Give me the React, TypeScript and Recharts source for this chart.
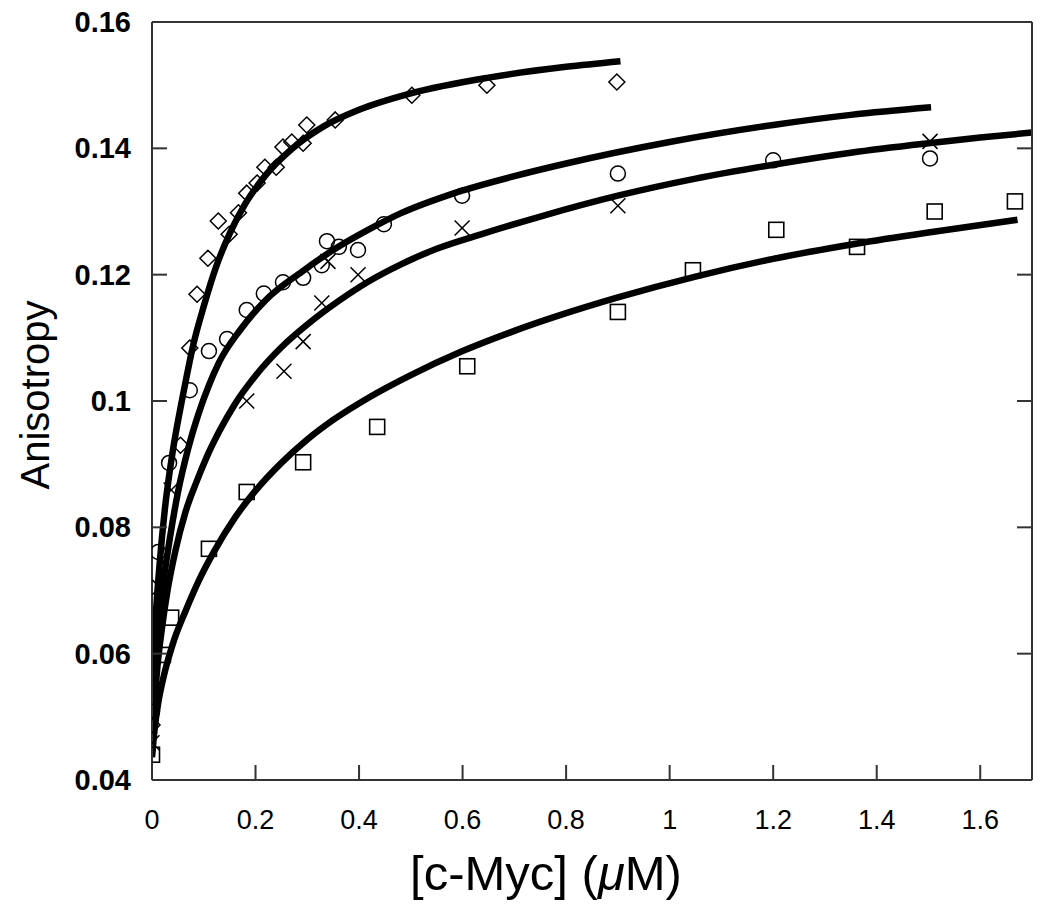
import React from 'react';
import { ComposedChart, Line, Scatter, XAxis, YAxis } from 'recharts';

// measured points, [c-Myc] in uM vs anisotropy
const diamondX = [0, 0.055, 0.073, 0.087, 0.108, 0.128, 0.149, 0.167, 0.183, 0.203, 0.218, 0.24, 0.253, 0.27, 0.292, 0.299, 0.354, 0.502, 0.647, 0.898];
const diamondY = [0.0487, 0.093, 0.1084, 0.1169, 0.1226, 0.1285, 0.1264, 0.1298, 0.1329, 0.1345, 0.137, 0.137, 0.1402, 0.141, 0.1408, 0.1437, 0.1445, 0.1484, 0.15, 0.1505];

const circleX = [0, 0.012, 0.033, 0.073, 0.11, 0.145, 0.183, 0.216, 0.253, 0.292, 0.328, 0.338, 0.361, 0.398, 0.448, 0.599, 0.9, 1.2, 1.503];
const circleY = [0.0508, 0.0761, 0.0902, 0.1017, 0.1079, 0.1098, 0.1144, 0.117, 0.1188, 0.1195, 0.1215, 0.1253, 0.1244, 0.1239, 0.128, 0.1325, 0.136, 0.1381, 0.1384];

const crossX = [0, 0.015, 0.037, 0.183, 0.255, 0.292, 0.328, 0.34, 0.398, 0.599, 0.9, 1.503];
const crossY = [0.0459, 0.0705, 0.0859, 0.1, 0.1047, 0.1094, 0.1155, 0.1221, 0.12, 0.1274, 0.1309, 0.1411];

const squareX = [0, 0.021, 0.037, 0.11, 0.183, 0.292, 0.435, 0.609, 0.9, 1.045, 1.206, 1.362, 1.512, 1.667];
const squareY = [0.044, 0.0598, 0.0657, 0.0766, 0.0856, 0.0903, 0.0959, 0.1055, 0.1141, 0.1207, 0.1271, 0.1244, 0.13, 0.1316];

// fitted binding curves
const diamondFitX = [0, 0.003, 0.008, 0.015, 0.025, 0.04, 0.06, 0.08, 0.1, 0.125, 0.15, 0.18, 0.22, 0.27, 0.33, 0.4, 0.5, 0.65, 0.8, 0.905];
const diamondFitY = [0.0542, 0.06, 0.067, 0.0745, 0.083, 0.092, 0.101, 0.109, 0.115, 0.1215, 0.1265, 0.1312, 0.1358, 0.1399, 0.1434, 0.1461, 0.1487, 0.1512, 0.1529, 0.1538];

const circleFitX = [0, 0.004, 0.01, 0.02, 0.035, 0.05, 0.07, 0.09, 0.11, 0.13, 0.17, 0.22, 0.29, 0.35, 0.42, 0.48, 0.58, 0.7, 0.8, 1.0, 1.2, 1.35, 1.505];
const circleFitY = [0.0445, 0.054, 0.062, 0.07, 0.0785, 0.0855, 0.0925, 0.098, 0.1025, 0.1062, 0.1112, 0.116, 0.1205, 0.1239, 0.1272, 0.1297, 0.1328, 0.1356, 0.1376, 0.141, 0.1437, 0.1453, 0.1465];

const crossFitX = [0, 0.004, 0.01, 0.02, 0.03, 0.045, 0.065, 0.085, 0.105, 0.13, 0.16, 0.2, 0.25, 0.3, 0.36, 0.42, 0.48, 0.55, 0.64, 0.75, 0.9, 1.05, 1.2, 1.35, 1.5, 1.6, 1.7];
const crossFitY = [0.0445, 0.051, 0.0575, 0.0645, 0.07, 0.0762, 0.0825, 0.087, 0.091, 0.0952, 0.0995, 0.104, 0.1085, 0.1121, 0.1158, 0.119, 0.1216, 0.1241, 0.1265, 0.1292, 0.1325, 0.1352, 0.1374, 0.1393, 0.1408, 0.1417, 0.1425];

const squareFitX = [0, 0.005, 0.012, 0.022, 0.04, 0.065, 0.09, 0.12, 0.16, 0.2, 0.25, 0.3, 0.35, 0.42, 0.5, 0.6, 0.7, 0.8, 0.9, 1.05, 1.2, 1.36, 1.51, 1.672];
const squareFitY = [0.0436, 0.048, 0.0522, 0.0562, 0.0615, 0.0668, 0.0715, 0.0762, 0.0815, 0.0858, 0.0902, 0.0939, 0.097, 0.1006, 0.1041, 0.1079, 0.1111, 0.1139, 0.1164, 0.1197, 0.1225, 0.1249, 0.1268, 0.1287];

const xTicks = [0, 0.2, 0.4, 0.6, 0.8, 1, 1.2, 1.4, 1.6];
const yTicks = [0.04, 0.06, 0.08, 0.1, 0.12, 0.14, 0.16];

const zip = (xs: number[], ys: number[]) => xs.map((x, i) => ({ x, y: ys[i] }));

const FONT = "'Liberation Sans', Arial, sans-serif";
const INK = '#000';
const FRAME = '#333';
const TICK_LEN = 15;

// markers
const Diamond = ({ cx, cy }: any) => (
  <polygon points={`${cx},${cy - 8} ${cx + 8},${cy} ${cx},${cy + 8} ${cx - 8},${cy}`} fill="none" stroke={INK} strokeWidth={1.5} />
);
const Ring = ({ cx, cy }: any) => <circle cx={cx} cy={cy} r={7.5} fill="none" stroke={INK} strokeWidth={1.5} />;
const Cross = ({ cx, cy }: any) => (
  <g stroke={INK} strokeWidth={1.5}>
    <line x1={cx - 7.5} y1={cy - 7.5} x2={cx + 7.5} y2={cy + 7.5} />
    <line x1={cx - 7.5} y1={cy + 7.5} x2={cx + 7.5} y2={cy - 7.5} />
  </g>
);
const Box = ({ cx, cy }: any) => <rect x={cx - 7.5} y={cy - 7.5} width={15} height={15} fill="none" stroke={INK} strokeWidth={1.6} />;

// ticks point into the plot on all four sides
const BottomTick = ({ x, y, payload }: any) => (
  <g>
    {payload.value > 0 && <line x1={x} y1={y} x2={x} y2={y - TICK_LEN} stroke={FRAME} strokeWidth={2} />}
    <text x={x} y={y + 40} textAnchor="middle" dy="0.35em" fontSize={27} fontFamily={FONT} fill={INK}>{payload.value}</text>
  </g>
);
const TopTick = ({ x, y, payload }: any) =>
  payload.value > 0 ? <line x1={x} y1={y} x2={x} y2={y + TICK_LEN} stroke={FRAME} strokeWidth={2} /> : <g />;
const LeftTick = ({ x, y, payload }: any) => (
  <g>
    {payload.value > 0.04 && payload.value < 0.16 && <line x1={x} y1={y} x2={x + TICK_LEN} y2={y} stroke={FRAME} strokeWidth={2} />}
    <text x={x - 21} y={y} textAnchor="end" dy="0.35em" fontSize={29} fontWeight="bold" fontFamily={FONT} fill={INK}>{payload.value}</text>
  </g>
);
const RightTick = ({ x, y, payload }: any) =>
  payload.value > 0.04 && payload.value < 0.16 ? <line x1={x} y1={y} x2={x - TICK_LEN} y2={y} stroke={FRAME} strokeWidth={2} /> : <g />;

const YTitle = ({ viewBox }: any) => {
  const cx = 27;
  const cy = viewBox.y + viewBox.height / 2 - 6;
  return (
    <text x={cx} y={cy} transform={`rotate(-90, ${cx}, ${cy})`} textAnchor="middle" dy="0.35em" fontSize={40} fontFamily={FONT} fill={INK}>
      Anisotropy
    </text>
  );
};
const XTitle = ({ viewBox }: any) => (
  <text x={viewBox.x + viewBox.width / 2 - 46} y={viewBox.y + 93} textAnchor="middle" dy="0.35em" fontSize={49} fontFamily={FONT} fill={INK}>
    [c-Myc] (<tspan fontStyle="italic">μ</tspan>M)
  </text>
);

export default function App() {
  // pull the chart up over the body margin so the top label has room inside the svg
  return (
    <div style={{ marginTop: -8 }}>
      <ComposedChart width={1034} height={904} margin={{ top: 21, right: 9, bottom: 0, left: 0 }}>
        <XAxis
          dataKey="x" type="number" domain={[0, 1.7]} ticks={xTicks} allowDataOverflow
          height={124} tickSize={0} tickMargin={0} tickLine={false}
          axisLine={{ stroke: FRAME, strokeWidth: 2 }} tick={<BottomTick />} label={<XTitle />}
        />
        <XAxis
          xAxisId="top" orientation="top" type="number" domain={[0, 1.7]} ticks={xTicks} allowDataOverflow
          height={1} tickSize={0} tickMargin={0} tickLine={false}
          axisLine={{ stroke: FRAME, strokeWidth: 2 }} tick={<TopTick />}
        />
        <YAxis
          type="number" domain={[0.04, 0.16]} ticks={yTicks} allowDataOverflow
          width={144} tickSize={0} tickMargin={0} tickLine={false}
          axisLine={{ stroke: FRAME, strokeWidth: 2 }} tick={<LeftTick />} label={<YTitle />}
        />
        <YAxis
          yAxisId="right" orientation="right" type="number" domain={[0.04, 0.16]} ticks={yTicks} allowDataOverflow
          width={1} tickSize={0} tickMargin={0} tickLine={false}
          axisLine={{ stroke: FRAME, strokeWidth: 2 }} tick={<RightTick />}
        />

        <Scatter data={zip(diamondX, diamondY)} dataKey="y" shape={<Diamond />} isAnimationActive={false} />
        <Scatter data={zip(circleX, circleY)} dataKey="y" shape={<Ring />} isAnimationActive={false} />
        <Scatter data={zip(crossX, crossY)} dataKey="y" shape={<Cross />} isAnimationActive={false} />
        <Scatter data={zip(squareX, squareY)} dataKey="y" shape={<Box />} isAnimationActive={false} />

        <Line data={zip(diamondFitX, diamondFitY)} dataKey="y" type="monotone" stroke={INK} strokeWidth={6.5} dot={false} activeDot={false} isAnimationActive={false} />
        <Line data={zip(circleFitX, circleFitY)} dataKey="y" type="monotone" stroke={INK} strokeWidth={6.5} dot={false} activeDot={false} isAnimationActive={false} />
        <Line data={zip(crossFitX, crossFitY)} dataKey="y" type="monotone" stroke={INK} strokeWidth={6.5} dot={false} activeDot={false} isAnimationActive={false} />
        <Line data={zip(squareFitX, squareFitY)} dataKey="y" type="monotone" stroke={INK} strokeWidth={6.5} dot={false} activeDot={false} isAnimationActive={false} />
      </ComposedChart>
    </div>
  );
}
